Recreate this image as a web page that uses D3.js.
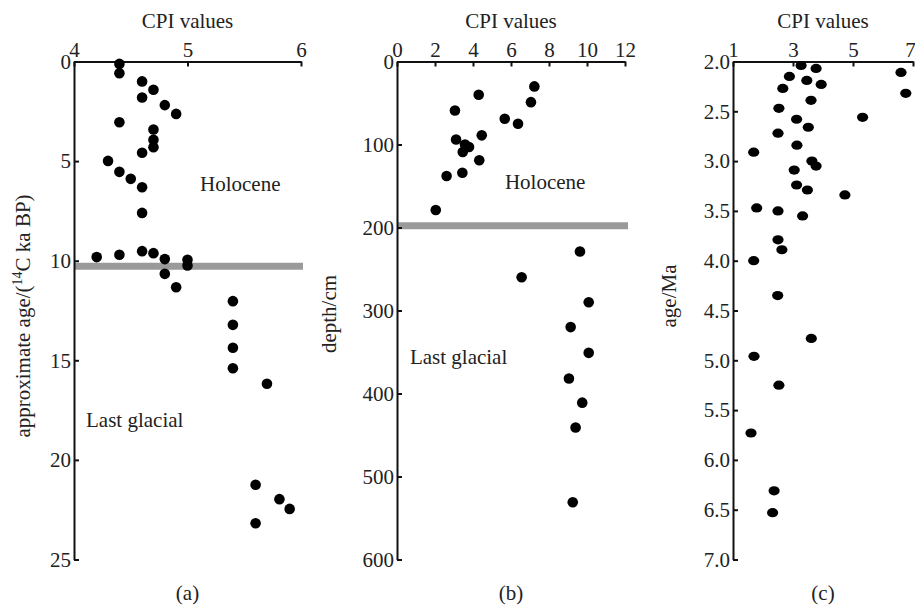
<!DOCTYPE html>
<html>
<head>
<meta charset="utf-8">
<script src="https://cdn.jsdelivr.net/npm/d3@7"></script>
<style>
  body { margin: 0; background: #fff; }
  text { font-family: "Liberation Serif", "Times New Roman", serif; fill: #222; }
</style>
</head>
<body>
<div id="svg-area"></div>
<script>
// data, panel (a): CPI vs approximate age (ka BP)
const cpiA = [4.40, 4.40, 4.60, 4.70, 4.60, 4.80, 4.90, 4.40, 4.70, 4.70, 4.70, 4.60,
  4.30, 4.40, 4.50, 4.60, 4.60, 4.20, 4.40, 4.60, 4.70, 4.80, 5.00, 5.00, 4.80, 4.90,
  5.40, 5.40, 5.40, 5.40, 5.70, 5.60, 5.81, 5.90, 5.60];
const ageA = [0.12, 0.59, 1.0, 1.42, 1.81, 2.19, 2.63, 3.05, 3.41, 3.93, 4.30, 4.58,
  4.99, 5.54, 5.89, 6.31, 7.60, 9.82, 9.70, 9.52, 9.62, 9.92, 9.95, 10.24, 10.66, 11.33,
  12.03, 13.22, 14.37, 15.40, 16.18, 21.25, 21.97, 22.46, 23.18];

// data, panel (b): CPI vs depth (cm)
const cpiB = [7.23, 4.30, 7.05, 3.05, 5.67, 6.37, 4.46, 3.11, 3.58, 3.79, 3.46, 4.33,
  3.44, 2.61, 2.04, 9.63, 6.56, 10.09, 9.14, 10.09, 9.05, 9.75, 9.40, 9.25];
const depthB = [30, 40, 49, 59, 69, 75, 89, 94, 100, 103, 109, 119,
  134, 138, 179, 229, 260, 290, 320, 351, 382, 411, 441, 531];

// data, panel (c): CPI vs age (Ma)
const cpiC = [3.27, 3.77, 6.60, 2.88, 3.46, 3.94, 2.66, 6.76, 3.60, 2.53, 5.32, 3.12,
  3.51, 2.50, 3.13, 1.69, 3.63, 3.77, 3.04, 3.12, 3.48, 4.73, 1.79, 2.50, 3.32, 2.50,
  2.63, 1.69, 2.49, 3.61, 1.70, 2.53, 1.60, 2.37, 2.32];
const ageC = [2.04, 2.07, 2.11, 2.15, 2.19, 2.23, 2.27, 2.32, 2.39, 2.47, 2.56, 2.58,
  2.66, 2.72, 2.84, 2.91, 3.00, 3.05, 3.09, 3.24, 3.29, 3.34, 3.47, 3.50, 3.55, 3.79,
  3.89, 4.00, 4.35, 4.78, 4.96, 5.25, 5.73, 6.31, 6.53];

// tick labels
const ticksXA = [4, 5, 6];
const ticksYA = [0, 5, 10, 15, 20, 25];
const ticksXB = [0, 2, 4, 6, 8, 10, 12];
const ticksYB = [0, 100, 200, 300, 400, 500, 600];
const ticksXC = [1, 3, 5, 7];
const ticksYC = [2.0, 2.5, 3.0, 3.5, 4.0, 4.5, 5.0, 5.5, 6.0, 6.5, 7.0];

// boundary between Holocene and last glacial
const boundaryA = 10.28;
const boundaryB = 198;

// svg container
const svgWidth = 915;
const svgHeight = 606;

const svg = d3.select("#svg-area").append("svg")
    .attr("width", svgWidth)
    .attr("height", svgHeight);

const plotTop = 61.5;
const plotBottom = 559.5;

// scales
const xA = d3.scaleLinear().domain([4, 6]).range([74, 301]);
const yA = d3.scaleLinear().domain([0, 25]).range([plotTop, plotBottom]);
const xB = d3.scaleLinear().domain([0, 12]).range([397, 625]);
const yB = d3.scaleLinear().domain([0, 600]).range([plotTop, plotBottom]);
const xC = d3.scaleLinear().domain([1, 7]).range([733, 913]);
const yC = d3.scaleLinear().domain([2, 7]).range([plotTop, plotBottom]);

function drawAxes(x, y, xt, yt, yFmt) {
  const g = svg.append("g");
  const xAxis = d3.axisTop(x).tickValues(xt).tickSizeInner(-5).tickSizeOuter(0).tickPadding(5)
      .tickFormat(d3.format("d"));
  const yAxis = d3.axisLeft(y).tickValues(yt).tickSizeInner(-5).tickSizeOuter(0).tickPadding(3)
      .tickFormat(yFmt || d3.format("d"));
  const gx = g.append("g").attr("transform", `translate(0, ${y.range()[0]})`).call(xAxis);
  const gy = g.append("g").attr("transform", `translate(${x.range()[0]}, 0)`).call(yAxis);
  // drop d3's sans-serif default so the serif face is used
  gx.attr("font-family", null).attr("font-size", null);
  gy.attr("font-family", null).attr("font-size", null);
  g.selectAll(".domain, .tick line").attr("stroke", "#111").attr("stroke-width", 2);
  g.selectAll(".tick text")
      .style("font-family", "'Liberation Serif', serif")
      .style("font-size", "21px")
      .attr("fill", "#222");
  return gx;
}

function title(x, txt) {
  svg.append("text")
      .attr("x", (x.range()[0] + x.range()[1]) / 2)
      .attr("y", 28)
      .attr("text-anchor", "middle")
      .style("font-size", "21px")
      .text(txt);
}

function panelLabel(x, txt) {
  svg.append("text")
      .attr("x", (x.range()[0] + x.range()[1]) / 2)
      .attr("y", 600)
      .attr("text-anchor", "middle")
      .style("font-size", "21px")
      .text(txt);
}

function yLabel(cx, cy) {
  return svg.append("text")
      .attr("transform", `translate(${cx}, ${cy}) rotate(-90)`)
      .attr("text-anchor", "middle")
      .style("font-size", "21px");
}

// grey boundary bands (drawn under the axes)
svg.append("line")
    .attr("x1", xA(4)).attr("x2", xA(6) + 2)
    .attr("y1", yA(boundaryA)).attr("y2", yA(boundaryA))
    .attr("stroke", "#9a9a9a").attr("stroke-width", 7);
svg.append("line")
    .attr("x1", xB(0)).attr("x2", xB(12) + 3)
    .attr("y1", yB(boundaryB)).attr("y2", yB(boundaryB))
    .attr("stroke", "#9a9a9a").attr("stroke-width", 7);

// panel a
drawAxes(xA, yA, ticksXA, ticksYA);
title(xA, "CPI values");
panelLabel(xA, "(a)");
const la = yLabel(30, 316);
la.append("tspan").text("approximate age/(");
la.append("tspan").attr("dy", -8).style("font-size", "14px").text("14");
la.append("tspan").attr("dy", 8).text("C ka BP)");

svg.selectAll(".dotA")
    .data(cpiA)
    .enter()
    .append("circle")
    .attr("cx", d => xA(d))
    .attr("cy", (d, i) => yA(ageA[i]))
    .attr("r", 5.3)
    .attr("fill", "#000");

svg.append("text").attr("x", xA(5.11)).attr("y", yA(6.5))
    .style("font-size", "21px").text("Holocene");
svg.append("text").attr("x", xA(4.106)).attr("y", yA(18.37))
    .style("font-size", "21px").text("Last glacial");

// panel b
drawAxes(xB, yB, ticksXB, ticksYB);
title(xB, "CPI values");
panelLabel(xB, "(b)");
yLabel(336, 314).text("depth/cm");

svg.selectAll(".dotB")
    .data(cpiB)
    .enter()
    .append("circle")
    .attr("cx", d => xB(d))
    .attr("cy", (d, i) => yB(depthB[i]))
    .attr("r", 5.3)
    .attr("fill", "#000");

svg.append("text").attr("x", xB(5.68)).attr("y", yB(154))
    .style("font-size", "21px").text("Holocene");
svg.append("text").attr("x", xB(0.68)).attr("y", yB(365))
    .style("font-size", "21px").text("Last glacial");

// panel c
const gxC = drawAxes(xC, yC, ticksXC, ticksYC, d3.format(".1f"));
// last label sits at the window edge, pull it in a little
gxC.selectAll(".tick text").filter(d => d === 7).attr("dx", -3);
title(xC, "CPI values");
panelLabel(xC, "(c)");
yLabel(676, 296).text("age/Ma");

svg.selectAll(".dotC")
    .data(cpiC)
    .enter()
    .append("ellipse")
    .attr("cx", d => xC(d))
    .attr("cy", (d, i) => yC(ageC[i]))
    .attr("rx", 5.6)
    .attr("ry", 4.6)
    .attr("fill", "#000");
</script>
</body>
</html>
